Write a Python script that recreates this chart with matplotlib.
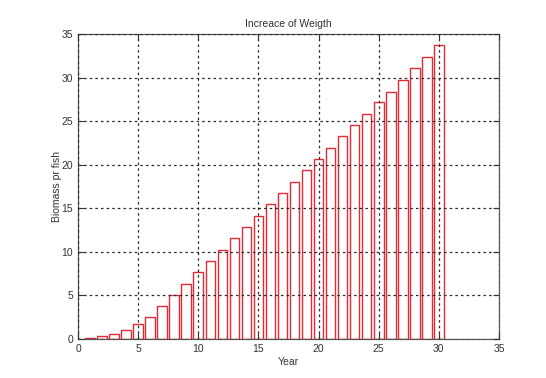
import matplotlib
matplotlib.use("Agg")
import matplotlib.pyplot as plt

# Biomass per fish by year
years = list(range(1, 31))
biomass = [0.1, 0.3, 0.6, 1.05, 1.7, 2.5, 3.8, 5.1, 6.3, 7.7,
           9.0, 10.2, 11.55, 12.85, 14.15, 15.45, 16.8, 18.05, 19.4, 20.65,
           21.9, 23.3, 24.6, 25.8, 27.15, 28.4, 29.75, 31.05, 32.35, 33.7]
xticks = [0, 5, 10, 15, 20, 25, 30, 35]
yticks = [0, 5, 10, 15, 20, 25, 30, 35]

plt.rcParams['font.family'] = ['Liberation Sans', 'DejaVu Sans']
fig = plt.figure(figsize=(5.46, 3.78), dpi=100)
ax = fig.add_axes([78 / 546, 1 - 339 / 378, (499 - 78) / 546, (339 - 34) / 378])

ax.bar(years, biomass, width=0.8, facecolor='white', edgecolor='#e42a36',
       linewidth=1.0, zorder=2)

ax.set_xlim(0, 35)
ax.set_ylim(0, 35)
ax.set_xticks(xticks)
ax.set_yticks(yticks)
ax.grid(True, color='#2a2a2a', linestyle=(0, (2, 2.5)), linewidth=0.9, zorder=3)
ax.set_axisbelow(False)
ax.tick_params(direction='in', top=True, right=True, labelsize=7.5,
               length=4, width=0.8, colors='#333333', labelcolor='#333333')
for s in ax.spines.values():
    s.set_color('#555555')
    s.set_linewidth(0.9)

ax.set_title('Increace of Weigth', fontsize=7.5, color='#333333', pad=5)
ax.set_xlabel('Year', fontsize=7.5, color='#333333', labelpad=2)
ax.set_ylabel('Biomass pr fish', fontsize=7.5, color='#333333', labelpad=0)

fig.savefig('out.png', dpi=100)
